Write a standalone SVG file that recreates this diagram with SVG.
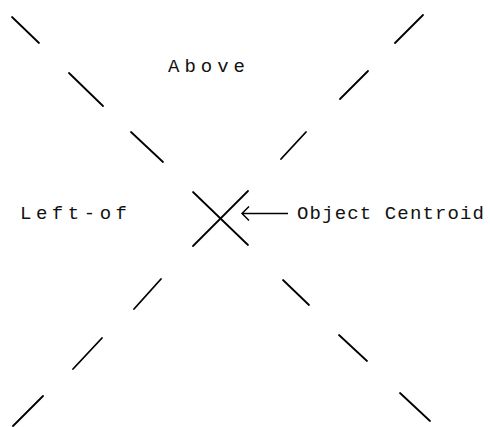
<svg xmlns="http://www.w3.org/2000/svg" width="490" height="427" viewBox="0 0 490 427">
<style>
.seg{stroke:#000;stroke-width:1.8;stroke-linecap:round;fill:none}
.lbl{font-family:"Liberation Mono","DejaVu Sans Mono",monospace;font-size:19px;fill:#111}
</style>
<defs>
<marker id="ah" markerWidth="10" markerHeight="16" refX="8" refY="8" orient="auto" markerUnits="userSpaceOnUse">
<path d="M1,1 L8,8 L1,15" fill="none" stroke="#000" stroke-width="1.5"/>
</marker>
</defs>
<rect width="490" height="427" fill="#fff"/>
<g id="connectors">
<line class="seg" x1="12" y1="17" x2="39" y2="43"/>
<line class="seg" x1="69" y1="73" x2="103" y2="106"/>
<line class="seg" x1="131" y1="132" x2="163" y2="162"/>
<line class="seg" x1="423" y1="15" x2="395" y2="43"/>
<line class="seg" x1="368" y1="71" x2="340" y2="99"/>
<line class="seg" x1="306" y1="132" x2="281" y2="159"/>
<line class="seg" x1="161" y1="279" x2="134" y2="309"/>
<line class="seg" x1="102" y1="338" x2="73" y2="369"/>
<line class="seg" x1="43" y1="396" x2="13" y2="426"/>
<line class="seg" x1="283" y1="280" x2="309" y2="305"/>
<line class="seg" x1="339" y1="335" x2="367" y2="361"/>
<line class="seg" x1="400" y1="393" x2="430" y2="421"/>
<line class="seg" x1="193" y1="192" x2="248" y2="245"/>
<line class="seg" x1="248" y1="191" x2="193" y2="246"/>
<line x1="288" y1="213.5" x2="242" y2="213.5" stroke="#000" stroke-width="1.5" marker-end="url(#ah)"/>
</g>
<g id="above"><text class="lbl" x="168" y="72" textLength="77" lengthAdjust="spacing">Above</text></g>
<g id="left-of"><text class="lbl" x="20" y="219" textLength="107" lengthAdjust="spacing">Left-of</text></g>
<g id="centroid"><text class="lbl" x="297" y="219" textLength="187" lengthAdjust="spacing">Object Centroid</text></g>
</svg>
